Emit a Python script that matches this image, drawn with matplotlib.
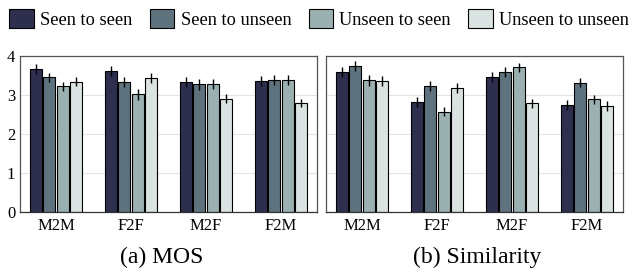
import matplotlib.pyplot as plt
import numpy as np
from matplotlib.patches import Patch

plt.rcParams['font.family'] = ['Liberation Serif', 'DejaVu Serif']

groups = ['M2M', 'F2F', 'M2F', 'F2M']
series = ['Seen to seen', 'Seen to unseen', 'Unseen to seen', 'Unseen to unseen']
colors = ['#2e2f4e', '#5e737e', '#9bb0b0', '#dbe3e2']

# rows = series, cols = groups
mos = [
    [3.66, 3.61, 3.34, 3.36],
    [3.45, 3.33, 3.27, 3.39],
    [3.22, 3.02, 3.29, 3.38],
    [3.34, 3.44, 2.91, 2.79],
]
mos_err = [
    [0.13, 0.13, 0.13, 0.14],
    [0.12, 0.12, 0.13, 0.13],
    [0.12, 0.14, 0.13, 0.13],
    [0.12, 0.13, 0.11, 0.11],
]
sim = [
    [3.60, 2.81, 3.47, 2.74],
    [3.74, 3.22, 3.59, 3.32],
    [3.38, 2.57, 3.71, 2.89],
    [3.35, 3.18, 2.79, 2.71],
]
sim_err = [
    [0.13, 0.13, 0.13, 0.13],
    [0.13, 0.13, 0.12, 0.12],
    [0.14, 0.12, 0.12, 0.12],
    [0.13, 0.12, 0.12, 0.13],
]

fig = plt.figure(figsize=(6.3, 2.7), dpi=100)
ax1 = fig.add_axes([20/630, 1 - 212/270, 297/630, 156/270])
ax2 = fig.add_axes([326/630, 1 - 212/270, 297/630, 156/270])

x = np.arange(len(groups))
pitch = 0.18
width = 0.155

for ax, vals, errs in [(ax1, mos, mos_err), (ax2, sim, sim_err)]:
    ax.set_axisbelow(True)
    ax.grid(True, axis='y', color='#e4e4e4', lw=0.8)
    for i, s in enumerate(series):
        ax.bar(x + (i - 1.5) * pitch, vals[i], width, yerr=errs[i],
               color=colors[i], edgecolor='black', linewidth=0.8,
               error_kw=dict(ecolor='black', elinewidth=1.0, capsize=0))
    ax.set_xlim(-0.48, 3.48)
    ax.set_ylim(0, 4)
    ax.set_yticks([0, 1, 2, 3, 4])
    ax.set_xticks(x)
    ax.set_xticklabels(groups)
    ax.tick_params(length=0, labelsize=12)
    ax.tick_params(axis='y', pad=3.5)
    ax.tick_params(axis='x', pad=4)
    for sp in ax.spines.values():
        sp.set_color('#555555')
        sp.set_linewidth(0.9)
    ax.spines['bottom'].set_color('#333333')

ax2.set_yticklabels([])

handles = [Patch(facecolor=c, edgecolor='black', linewidth=0.8) for c in colors]
fig.legend(handles, series, loc='center left', bbox_to_anchor=(0.006, 1 - 19/270),
           ncol=4, frameon=False, fontsize=13.2, handlelength=1.33,
           handleheight=1.25, handletextpad=0.35, columnspacing=0.95,
           borderaxespad=0.0, borderpad=0.3)

fig.text(162/630, 1 - 257/270, '(a) MOS', ha='center', va='center', fontsize=17)
fig.text(477/630, 1 - 257/270, '(b) Similarity', ha='center', va='center', fontsize=17)

fig.savefig('out.png', dpi=100)
